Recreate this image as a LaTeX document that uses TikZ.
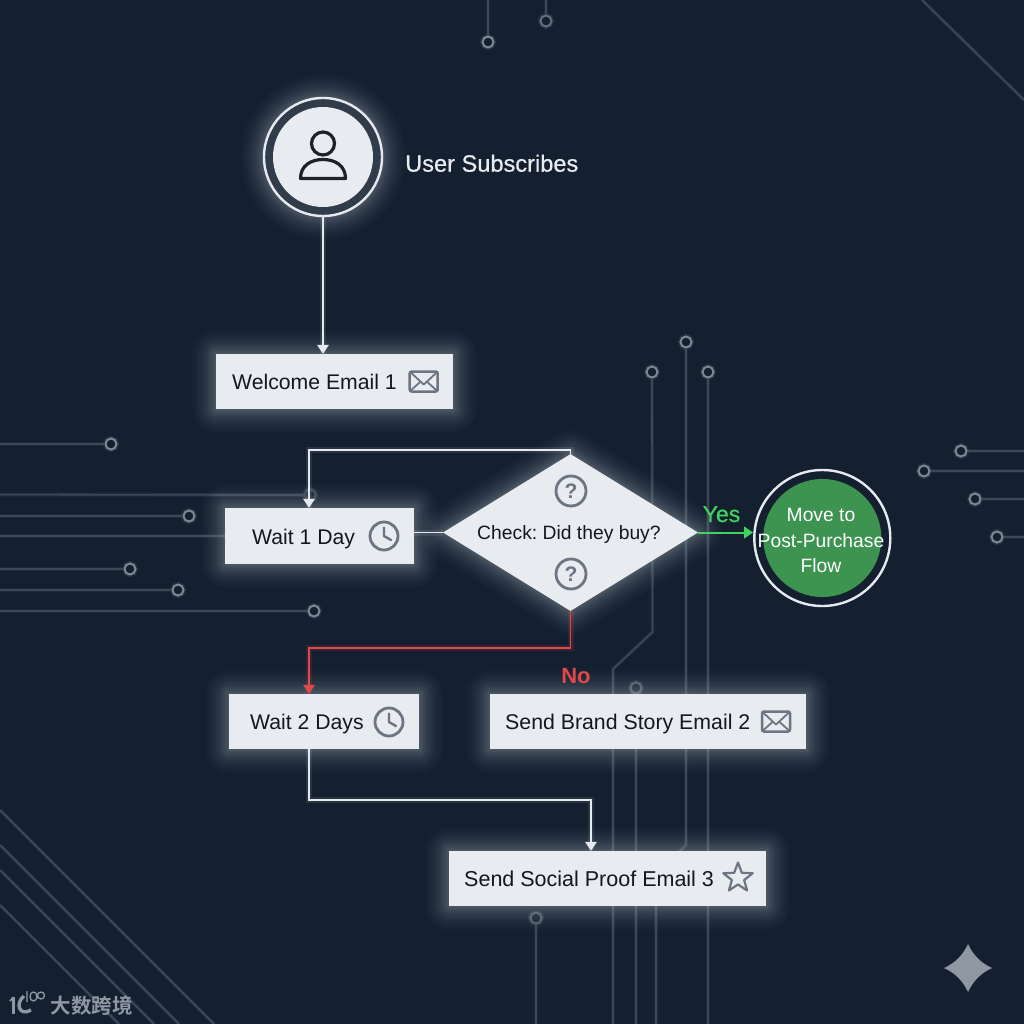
\documentclass[tikz,border=0pt]{standalone}
\usepackage{fontspec}
\setmainfont{Liberation Sans}
\newfontfamily\cjkwm[BoldFont={Noto Sans CJK SC Bold}]{Noto Sans CJK SC}
\newfontfamily\medfont[FakeBold=0.6]{Liberation Sans}
\usetikzlibrary{arrows.meta,shapes.geometric}
\definecolor{bgc}{HTML}{14202F}
\definecolor{boxc}{HTML}{E8EBF0}
\definecolor{inkc}{HTML}{14181E}
\definecolor{iconc}{HTML}{6D7582}
\definecolor{wirec}{HTML}{3B4858}
\definecolor{ringc}{HTML}{7F8792}
\definecolor{glowc}{HTML}{D5DDE8}
\definecolor{linkc}{HTML}{E6EAF0}
\definecolor{redc}{HTML}{E2474C}
\definecolor{greenc}{HTML}{3FD35F}
\definecolor{flowc}{HTML}{3D9450}
\definecolor{markc}{HTML}{8F97A3}
\newcommand{\glowing}[1]{\foreach \gw in {1,2,3,4,5,6,7,8,10,12,14,16,18,21,24,27,30,34,38,43,48} {\draw[glowc,draw opacity=.018,fill opacity=0,line width=\gw pt,line join=round] #1;}}
\tikzset{
  wire/.style={wirec,line width=1.8pt,preaction={draw,wirec,opacity=.25,line width=4pt}},
  ringdot/.style={circle,draw=ringc,line width=2pt,minimum size=11pt,inner sep=0pt,fill=bgc,preaction={draw=glowc,draw opacity=.1,line width=5pt}},
  procbox/.style={rectangle,fill=boxc,inner sep=0pt,draw=none},
  label/.style={inner sep=0pt,text=inkc,anchor=base west},
  link/.style={linkc,line width=1.8pt,preaction={draw,-,glowc,opacity=.1,line width=6pt}},
  tipped/.style={-{Triangle[width=11.5pt,length=9pt]}},
  envelope/.pic={
    \draw[iconc,line width=2.5pt,rounded corners=2pt] (-14,-10) rectangle (14,10);
    \draw[iconc,line width=1.8pt,line join=round] (-13,-9) -- (0,3) -- (13,-9) (-13,9) -- (-3,0) (13,9) -- (3,0);
  },
  clockface/.pic={
    \draw[iconc,line width=2.8pt] (0,0) circle (14);
    \draw[iconc,line width=2.4pt,line join=round,line cap=round] (0,-8.5) -- (0,0) -- (7,4);
  },
  person/.pic={
    \draw[inkc!90!iconc,line width=3.2pt] (0,-14) circle (11.5);
    \draw[inkc!90!iconc,line width=3.2pt,line join=round] (-22.5,21) .. controls (-22.5,8) and (-12,2) .. (0,2) .. controls (12,2) and (22.5,8) .. (22.5,21) -- cycle;
  },
}
\begin{document}
\begin{tikzpicture}[x=1pt,y=-1pt]
\useasboundingbox (0,0) rectangle (1024,1024);
\fill[bgc] (0,0) rectangle (1024,1024);
% background circuit traces
\coordinate (wl1) at (0,444); \coordinate (wl2) at (0,494.5); \coordinate (wl3) at (0,516);
\coordinate (wl4) at (0,536); \coordinate (wl5) at (0,569); \coordinate (wl6) at (0,590); \coordinate (wl7) at (0,611);
\node[ringdot] (rl1) at (111,444) {};
\node[ringdot,draw=wirec] (rl2) at (310,495) {};
\node[ringdot] (rl3) at (189,516) {};
\node[ringdot] (rl5) at (130,569) {};
\node[ringdot] (rl6) at (178,590) {};
\node[ringdot] (rl7) at (314,611) {};
\draw[wire] (wl1) -- (rl1);
\draw[wire] (wl2) -- (rl2);
\draw[wire] (wl3) -- (rl3);
\draw[wire] (wl5) -- (rl5);
\draw[wire] (wl6) -- (rl6);
\draw[wire] (wl7) -- (rl7);
\draw[wire] (wl4) -- (225,536);
\node[ringdot] (rr1) at (961,451) {};
\node[ringdot] (rr2) at (924,471) {};
\node[ringdot] (rr3) at (975,499) {};
\node[ringdot] (rr4) at (997,537) {};
\draw[wire] (rr1) -- (1024,451);
\draw[wire] (rr2) -- (1024,471);
\draw[wire] (rr3) -- (1024,499);
\draw[wire] (rr4) -- (1024,537);
\node[ringdot] (rt1) at (488,42) {};
\node[ringdot,draw=ringc!75!bgc] (rt2) at (546,21) {};
\draw[wire] (488,0) -- (rt1);
\draw[wire] (546,0) -- (rt2);
\draw[wire] (922,0) -- (1024,100);
\foreach \a/\b/\c in {0/810/214,0/845/179,0/870/154,0/905/119}
  \draw[wire] (\a,\b) -- (\c,1024);
\node[ringdot] (rv1) at (652,372) {};
\node[ringdot] (rv2) at (686,342) {};
\node[ringdot] (rv3) at (708,372) {};
\node[ringdot,draw=wirec!70!ringc] (rv4) at (636,688) {};
\node[ringdot,draw=wirec!70!ringc] (rv5) at (536,918) {};
\draw[wire,line join=round] (rv1) -- (652.5,632) -- (613,669) -- (613,1024);
\draw[wire,line join=round] (rv2) -- (686,845) -- (656,875) -- (656,1024);
\draw[wire] (rv3) -- (708,1024);
\draw[wire] (rv4) -- (636,1024);
\draw[wire] (rv5) -- (536,1024);
% glows
\glowing{(323,157) circle (59)}
\glowing{(216,354) rectangle (453,409)}
\glowing{(225,508) rectangle (414,564)}
\glowing{(443,532.5) -- (570.5,454) -- (698,532.5) -- (570.5,611) -- cycle}
\glowing{(229,694) rectangle (419,749)}
\glowing{(490,694) rectangle (806,749)}
\glowing{(449,851) rectangle (766,906)}
% start
\node[circle,draw=linkc,line width=2.4pt,fill=bgc!85!glowc,minimum size=118pt,inner sep=0pt] (start) at (323,157) {};
\node[circle,fill=boxc,minimum size=100pt,inner sep=0pt] (startin) at (323,157) {};
\pic at (323,157.5) {person};
\node[inner sep=0pt,anchor=base west,text=boxc,font=\medfont\fontsize{23.6}{26}\selectfont] (userlab) at (405,171.7) {User Subscribes};
% boxes
\node[procbox,minimum width=237pt,minimum height=55pt] (welcome) at (334.5,381.5) {};
\node[label,font=\fontsize{21.2}{26}\selectfont] (welcomelab) at (232,389) {Welcome Email 1};
\pic at (423.7,381.5) {envelope};
\node[procbox,minimum width=189pt,minimum height=56pt] (wait1) at (319.5,536) {};
\node[label,font=\fontsize{21.2}{26}\selectfont] (wait1lab) at (252,544.3) {Wait 1 Day};
\pic at (384,536) {clockface};
\node[diamond,fill=boxc,inner sep=0pt,aspect=1.63,minimum width=255pt,minimum height=157pt] (check) at (570.5,532.5) {};
\node[label,font=\fontsize{19.3}{24}\selectfont] (checklab) at (477,539.5) {Check:\ Did they buy?};
\node[circle,draw=iconc,line width=2.8pt,minimum size=30pt,inner sep=0pt,font=\bfseries\fontsize{21}{24}\selectfont,text=iconc] (q1) at (571,491) {?};
\node[circle,draw=iconc,line width=2.8pt,minimum size=30pt,inner sep=0pt,font=\bfseries\fontsize{21}{24}\selectfont,text=iconc] (q2) at (571,574) {?};
\node[circle,draw=linkc,line width=2.4pt,minimum size=136pt,inner sep=0pt] (flowring) at (822.3,538) {};
\node[circle,fill=flowc,minimum size=118pt,inner sep=0pt] (flow) at (822.3,538) {};
\node[inner sep=0pt,align=center,text=white,font=\fontsize{19.3}{25.3}\selectfont] (flowlab) at (821,540.5) {Move to\\Post-Purchase\\Flow};
\node[procbox,minimum width=190pt,minimum height=55pt] (wait2) at (324,721.5) {};
\node[label,font=\fontsize{21.2}{26}\selectfont] (wait2lab) at (250,729.5) {Wait 2 Days};
\pic at (389,722) {clockface};
\node[procbox,minimum width=316pt,minimum height=55pt] (brand) at (648,721.5) {};
\node[label,font=\fontsize{21.3}{26}\selectfont] (brandlab) at (505,729) {Send Brand Story Email 2};
\pic at (776,721.5) {envelope};
\node[procbox,minimum width=317pt,minimum height=55pt] (social) at (607.5,878.5) {};
\node[label,font=\fontsize{21.5}{26}\selectfont] (sociallab) at (464,886) {Send Social Proof Email 3};
\node[star,star points=5,star point ratio=2.4,draw=iconc,line width=2.2pt,minimum size=31pt,inner sep=0pt,line join=round] (staricon) at (738,878) {};
% connectors
\coordinate (fb) at (309,450);
\coordinate (redturn) at (309,648);
\coordinate (downturn) at (591,800);
\coordinate (w2out) at (309,749);
\draw[link,tipped] (start.south) -- (start.south |- welcome.north);
\draw[link] (wait1.east |- check.west) -- (check.west);
\draw[link,tipped] (check.north) |- (fb) -- (fb |- wait1.north);
\draw[redc,line width=1.9pt,tipped,preaction={draw,-,redc,opacity=.15,line width=6pt}] (check.south) |- (redturn) -- (redturn |- wait2.north);
\draw[greenc,line width=2pt,tipped] (check.east) -- (flowring.west |- check.east);
\draw[link,tipped] (w2out) |- (downturn) -- (downturn |- social.north);
\node[inner sep=0pt,anchor=base,text=greenc,font=\medfont\fontsize{23}{26}\selectfont] (yeslab) at (721.5,522) {Yes};
\node[inner sep=0pt,anchor=base,text=redc,font=\bfseries\fontsize{22}{26}\selectfont] (nolab) at (576,683) {No};
% corner sparkle
\fill[markc] (968,944) .. controls (973,955) and (981,963) .. (992,968) .. controls (981,973) and (973,981) .. (968,992) .. controls (963,981) and (955,973) .. (944,968) .. controls (955,963) and (963,955) .. (968,944) -- cycle;
% watermark
\draw[markc,line width=3.2pt] (13.5,997) -- (13.5,1014);
\draw[markc,line width=1.8pt] (10,1001) -- (13.5,997);
\draw[markc,line width=3.4pt] (24,996) .. controls (15,1003) and (19,1017) .. (31,1010);
\draw[markc,line width=1.3pt] (27,991) -- (27,1002) (33.5,996.5) ellipse (3.5 and 4.5) (41,995.5) ellipse (3.5 and 3.5);
\node[inner sep=0pt,text=markc,font=\cjkwm\bfseries\fontsize{20.5}{24}\selectfont] (wmark) at (91.5,1006) {大数跨境};
\end{tikzpicture}
\end{document}
